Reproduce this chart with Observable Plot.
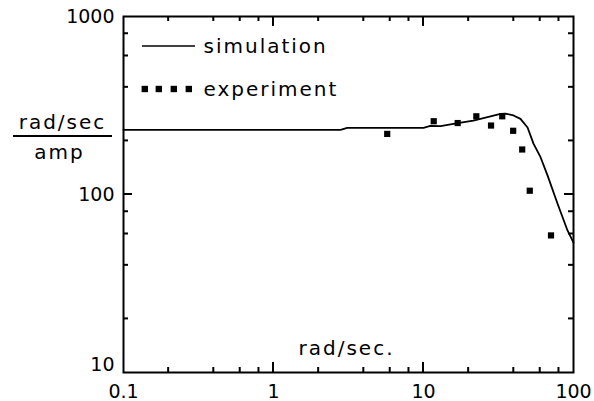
<!DOCTYPE html>
<html><head><meta charset="utf-8">
<script src="https://cdn.jsdelivr.net/npm/d3@7"></script>
<script src="https://cdn.jsdelivr.net/npm/@observablehq/plot@0.6"></script>
<style>body{margin:0;background:#fff}</style>
</head><body><div id="chart"></div>
<script>
// simulation curve (rad/sec vs gain)
const simX = [0.1, 1, 2.8, 3.1, 10, 11.1, 13, 16.9, 21.5, 26.7, 32.6, 35.2, 39.8, 44.3, 49.4, 54.1, 60.3, 67.1, 78.2, 91.2, 100];
const simY = [231, 231, 231, 237, 237, 243, 242, 252, 260, 272, 284, 285, 278, 266, 238, 193, 162, 128, 89, 62.8, 53.7];
// experiment points
const expX = [5.73, 11.7, 16.9, 22.5, 28.2, 33.5, 39.6, 45.5, 51.1, 70.8];
const expY = [219, 258, 252, 275, 244, 275, 228, 179, 105, 58.9];
// ticks
const xMajor = [0.1, 1, 10, 100];
const xMinor = [0.2, 0.4, 0.6, 0.8, 2, 4, 6, 8, 20, 40, 60, 80];
const yMajor = [10, 100, 1000];
const yMinor = [20, 40, 60, 80, 200, 400, 600, 800];
const xTickLabels = ["0.1", "1", "10", "100"];
const yTickLabels = ["10", "100", "1000"];
const legendLabels = ["simulation", "experiment"];
const yLabelTop = "rad/sec", yLabelBottom = "amp", xLabel = "rad/sec.";

const sim = simX.map((x, i) => ({x, y: simY[i]}));
const exp = expX.map((x, i) => ({x, y: expY[i]}));
const xFmt = d => xTickLabels[xMajor.indexOf(d)];
const yFmt = d => yTickLabels[yMajor.indexOf(d)];

const W = 594, H = 401, mL = 123, mR = 21, mT = 16, mB = 29;
const txt = {textAnchor: "middle", lineAnchor: "middle", fontSize: 20};

const chart = Plot.plot({
  width: W, height: H,
  marginLeft: mL, marginRight: mR, marginTop: mT, marginBottom: mB,
  x: {type: "log", domain: [0.1, 100]},
  y: {type: "log", domain: [10, 1000]},
  style: {fontFamily: "DejaVu Sans", fontSize: "19px", color: "#000", background: "#fff"},
  marks: [
    Plot.frame({strokeWidth: 2, fill: "none", stroke: "#000"}),
    Plot.axisX(xMajor, {anchor: "bottom", tickSize: 0, tickPadding: 12, tickFormat: xFmt, label: null}),
    Plot.axisY([100, 1000], {anchor: "left", tickSize: 0, tickPadding: 9, tickFormat: yFmt, label: null}),
    Plot.axisY([10], {anchor: "left", tickSize: 0, tickPadding: 9, dy: -8, tickFormat: yFmt, label: null}),
    Plot.line(sim, {x: "x", y: "y", stroke: "#000", strokeWidth: 1.8}),
    Plot.dot(exp, {x: "x", y: "y", symbol: "square", r: 3.5, fill: "#000", stroke: null}),
    Plot.text([legendLabels[0]], {frameAnchor: "top-left", dx: 80, dy: 30.5, ...txt, textAnchor: "start"}),
    Plot.text([legendLabels[1]], {frameAnchor: "top-left", dx: 80, dy: 72.6, ...txt, textAnchor: "start"}),
    ...[21.3, 35.3, 50.3, 65.3].map(dx => Plot.dot([0], {frameAnchor: "top-left", dx, dy: 72.5, symbol: "square", r: 3.6, fill: "#000", stroke: null})),
    Plot.text([yLabelTop], {frameAnchor: "top-left", dx: -61, dy: 105.6, ...txt}),
    Plot.text([yLabelBottom], {frameAnchor: "top-left", dx: -64, dy: 135.6, ...txt}),
    Plot.text([xLabel], {frameAnchor: "bottom-left", dx: 223, dy: -24.4, ...txt})
  ]
});

const svg = d3.select(chart);
svg.selectAll("text").filter(function() { return isNaN(+this.textContent); }).style("letter-spacing", "2px");

// inward ticks on all four sides, positioned with the plot's own scales
const sx = chart.scale("x"), sy = chart.scale("y");
const [x0, x1] = sx.range, [y0, y1] = sy.range;
const g = svg.append("g").attr("stroke", "#000").attr("stroke-width", 2);
const addX = (vals, len) => vals.forEach(v => {
  const px = sx.apply(v);
  g.append("line").attr("x1", px).attr("x2", px).attr("y1", y0).attr("y2", y0 - len);
  g.append("line").attr("x1", px).attr("x2", px).attr("y1", y1).attr("y2", y1 + len);
});
const addY = (vals, len) => vals.forEach(v => {
  const py = sy.apply(v);
  g.append("line").attr("y1", py).attr("y2", py).attr("x1", x0).attr("x2", x0 + len);
  g.append("line").attr("y1", py).attr("y2", py).attr("x1", x1).attr("x2", x1 - len);
});
addX(xMajor.slice(1, -1), 10);
addX(xMinor, 5);
addY(yMajor.slice(1, -1), 9);
addY(yMinor, 5);

svg.append("line").attr("x1", 13).attr("x2", 112).attr("y1", 136).attr("y2", 136).attr("stroke", "#000").attr("stroke-width", 2);
svg.append("line").attr("x1", 142).attr("x2", 195).attr("y1", 46).attr("y2", 46).attr("stroke", "#000").attr("stroke-width", 1.6);
document.getElementById("chart").appendChild(chart);
</script>
</body></html>
